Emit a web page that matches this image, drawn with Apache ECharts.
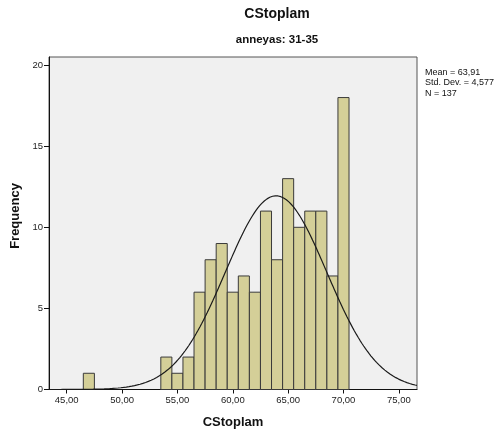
<!DOCTYPE html>
<html>
<head>
<meta charset="utf-8">
<script src="https://cdn.jsdelivr.net/npm/echarts@6/dist/echarts.min.js"></script>
<style>
  html, body { margin: 0; padding: 0; background: #ffffff; }
  #chart { width: 496px; height: 434px; }
</style>
</head>
<body>
<div id="chart"></div>
<script>
// Histogram of CStoplam for the 31-35 age group, bins of width 1
const binCenters = [47, 54, 55, 56, 57, 58, 59, 60, 61, 62, 63, 64, 65, 66, 67, 68, 69, 70];
const frequencies = [1, 2, 1, 2, 6, 8, 9, 6, 7, 6, 11, 8, 13, 10, 11, 11, 7, 18];
const xTicks = [45, 50, 55, 60, 65, 70, 75];
const yTicks = [0, 5, 10, 15, 20];
const statLines = ['Mean = 63,91', 'Std. Dev. = 4,577', 'N = 137'];

// Summary statistics used for the fitted normal curve
const MEAN = 63.91;
const SD = 4.577;
const N = 137;
const BIN_WIDTH = 1;

const X_MIN = 43.4, X_MAX = 76.64;
const Y_MAX = 20.5;

// Normal density scaled to expected counts per bin
const curve = [];
const STEPS = 400;
for (let i = 0; i <= STEPS; i++) {
  const x = X_MIN + (X_MAX - X_MIN) * i / STEPS;
  const z = (x - MEAN) / SD;
  curve.push([x, N * BIN_WIDTH * Math.exp(-0.5 * z * z) / (SD * Math.sqrt(2 * Math.PI))]);
}

const bars = binCenters.map((c, i) => [c, frequencies[i]]);
const fmt = v => v.toFixed(2).replace('.', ',');
const FONT = '"Liberation Sans", Arial, sans-serif';

const chart = echarts.init(document.getElementById('chart'), null, { renderer: 'canvas' });
chart.setOption({
  animation: false,
  backgroundColor: '#ffffff',
  grid: {
    left: 49, right: 79, top: 57, bottom: 44.5,
    show: true, backgroundColor: '#f0f0f0', borderColor: '#555555', borderWidth: 1
  },
  xAxis: {
    type: 'value', min: X_MIN, max: X_MAX,
    axisLine: { show: true, lineStyle: { color: '#111111', width: 1 } },
    axisTick: { show: true, length: 4, customValues: xTicks, lineStyle: { color: '#111111' } },
    axisLabel: { customValues: xTicks, formatter: fmt, fontFamily: FONT, fontSize: 9.5, color: '#222222', margin: 6 },
    splitLine: { show: false }
  },
  yAxis: {
    type: 'value', min: 0, max: Y_MAX,
    axisLine: { show: true, lineStyle: { color: '#111111', width: 1 } },
    axisTick: { show: true, length: 5, customValues: yTicks, lineStyle: { color: '#111111' } },
    axisLabel: { customValues: yTicks, fontFamily: FONT, fontSize: 9.5, color: '#222222', margin: 6 },
    splitLine: { show: false }
  },
  series: [
    {
      type: 'custom',
      data: bars,
      encode: { x: 0, y: 1 },
      renderItem: function (params, api) {
        const c = api.value(0), v = api.value(1);
        const p0 = api.coord([c - BIN_WIDTH / 2, v]);
        const p1 = api.coord([c + BIN_WIDTH / 2, 0]);
        return {
          type: 'rect',
          shape: { x: p0[0], y: p0[1], width: p1[0] - p0[0], height: p1[1] - p0[1] },
          style: { fill: '#d4cf98', stroke: '#3a3a3a', lineWidth: 1 }
        };
      },
      z: 2
    },
    {
      type: 'line',
      data: curve,
      showSymbol: false,
      smooth: false,
      clip: true,
      lineStyle: { color: '#1a1a1a', width: 1.2 },
      z: 3
    }
  ],
  graphic: [
    { type: 'text', x: 277, y: 14, style: { text: 'CStoplam', font: 'bold 14px ' + FONT, fill: '#111111', align: 'center', verticalAlign: 'middle' } },
    { type: 'text', x: 277, y: 40, style: { text: 'anneyas: 31-35', font: 'bold 11.5px ' + FONT, fill: '#111111', align: 'center', verticalAlign: 'middle' } },
    { type: 'text', x: 233, y: 422, style: { text: 'CStoplam', font: 'bold 13px ' + FONT, fill: '#111111', align: 'center', verticalAlign: 'middle' } },
    { type: 'text', x: 15, y: 216, rotation: Math.PI / 2, style: { text: 'Frequency', font: 'bold 13px ' + FONT, fill: '#111111', align: 'center', verticalAlign: 'middle' } },
    { type: 'text', x: 425, y: 67, style: { text: statLines.join('\n'), font: '9px ' + FONT, lineHeight: 10.5, fill: '#111111', align: 'left', verticalAlign: 'top' } }
  ]
});
</script>
</body>
</html>
